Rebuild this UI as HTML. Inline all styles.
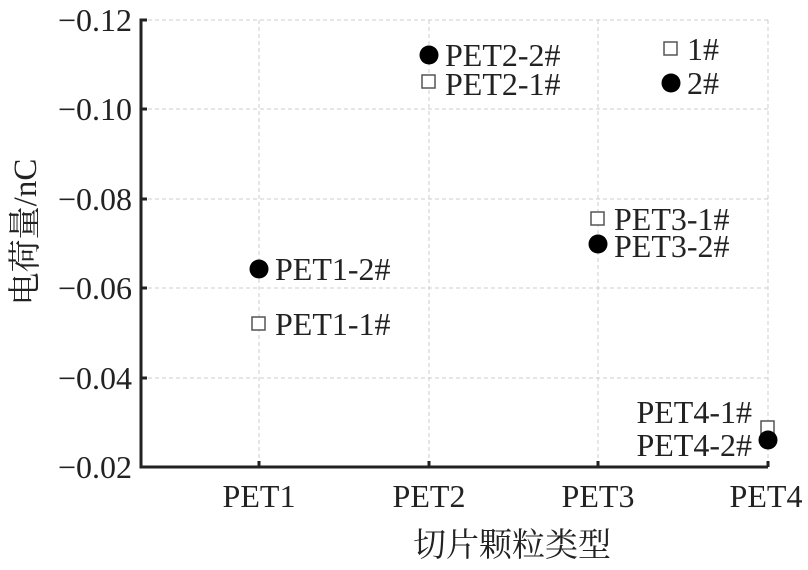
<!DOCTYPE html>
<html><head><meta charset="utf-8"><style>body{margin:0;background:#fff} svg{font-family:"Liberation Serif","Noto Serif CJK SC",serif}</style></head><body>
<svg width="808" height="565" xmlns="http://www.w3.org/2000/svg" fill="#222">
<g stroke="#ccc" stroke-width="1" stroke-dasharray="4,3">
<line x1="141" y1="20" x2="768" y2="20"/><line x1="141" y1="109" x2="768" y2="109"/><line x1="141" y1="199" x2="768" y2="199"/><line x1="141" y1="288" x2="768" y2="288"/><line x1="141" y1="378" x2="768" y2="378"/>
<line x1="259" y1="20" x2="259" y2="467"/><line x1="429" y1="20" x2="429" y2="467"/><line x1="598" y1="20" x2="598" y2="467"/><line x1="768" y1="20" x2="768" y2="467"/>
</g>
<g stroke="#222" stroke-width="3" fill="none">
<polyline points="147,20 141,20 141,467 768,467"/>
<line x1="141" y1="109" x2="147" y2="109"/><line x1="141" y1="199" x2="147" y2="199"/><line x1="141" y1="288" x2="147" y2="288"/><line x1="141" y1="378" x2="147" y2="378"/>
<line x1="259" y1="467" x2="259" y2="461"/><line x1="429" y1="467" x2="429" y2="461"/><line x1="598" y1="467" x2="598" y2="461"/><line x1="768" y1="467" x2="768" y2="461"/>
</g>
<g font-size="32" text-anchor="end">
<text x="132" y="31">−0.12</text><text x="132" y="120">−0.10</text><text x="132" y="210">−0.08</text><text x="132" y="299">−0.06</text><text x="132" y="389">−0.04</text><text x="132" y="478">−0.02</text>
</g>
<g font-size="32" text-anchor="middle">
<text x="259" y="507">PET1</text><text x="429" y="507">PET2</text><text x="598" y="507">PET3</text><text x="766" y="507">PET4</text>
<text x="512" y="556" font-size="33">切片颗粒类型</text>
<text transform="translate(36,232) rotate(-90)" font-size="33">电荷量/nC</text>
</g>
<g stroke="#555" stroke-width="1.5" fill="#fff">
<rect x="252" y="317" width="13" height="13"/><rect x="422" y="75" width="13" height="13"/><rect x="591" y="212" width="13" height="13"/><rect x="664" y="42" width="13" height="13"/><rect x="761" y="421" width="13" height="13"/>
</g>
<g fill="#000">
<circle cx="259" cy="269" r="9.5"/><circle cx="429" cy="55" r="9.5"/><circle cx="598" cy="244" r="9.5"/><circle cx="671" cy="83" r="9.5"/><circle cx="768" cy="440" r="9.5"/>
</g>
<g font-size="32">
<text x="275" y="280">PET1-2#</text><text x="275" y="335">PET1-1#</text>
<text x="445" y="66">PET2-2#</text><text x="445" y="95">PET2-1#</text>
<text x="614" y="230">PET3-1#</text><text x="614" y="257">PET3-2#</text>
<text x="687" y="60">1#</text><text x="687" y="94">2#</text>
<text x="752" y="423" text-anchor="end">PET4-1#</text><text x="752" y="456" text-anchor="end">PET4-2#</text>
</g>
</svg>
</body></html>
